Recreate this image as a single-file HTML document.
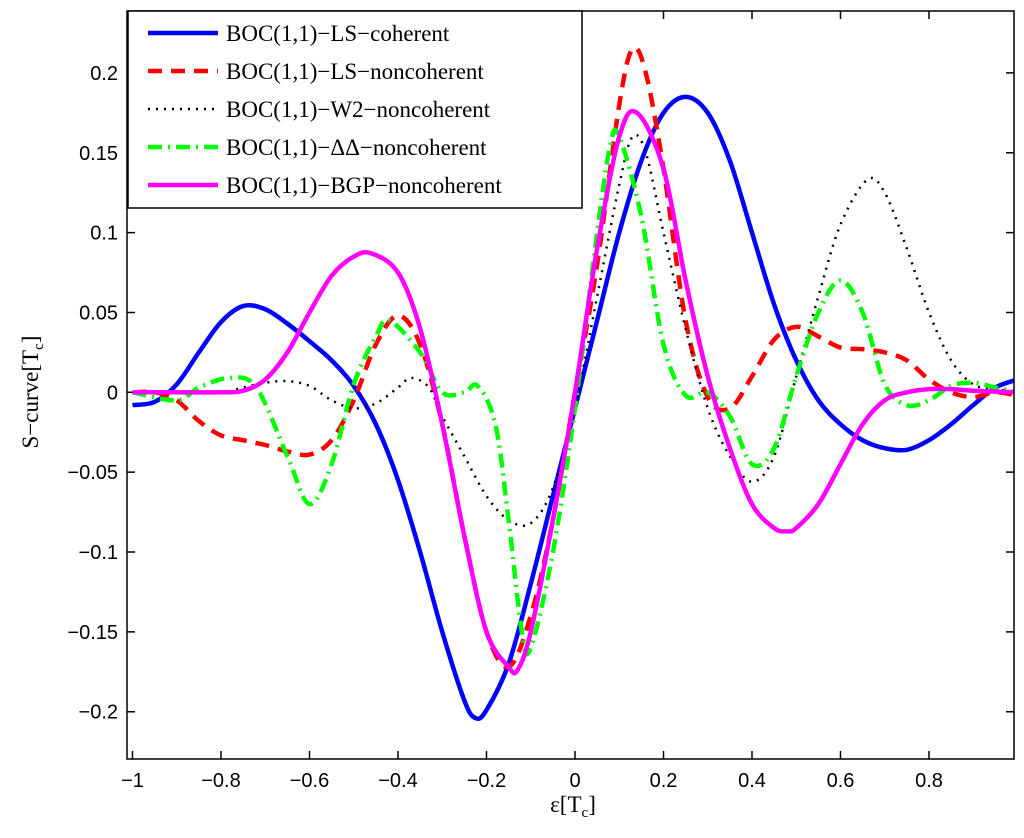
<!DOCTYPE html>
<html><head><meta charset="utf-8"><style>
body{margin:0;background:#fff}
svg{display:block}
.t{font-family:"Liberation Sans",sans-serif;font-size:20px;fill:#000}
.s{font-family:"Liberation Serif",serif;font-size:23px;fill:#000}
</style></head><body>
<svg id="chart" width="1024" height="838">
<defs><clipPath id="clip"><rect x="127" y="11" width="887" height="748"/></clipPath></defs>
<g id="ticks"></g>
<g id="series" clip-path="url(#clip)"></g>
<rect x="127" y="11" width="887" height="748" fill="none" stroke="#000" stroke-width="1.5"/>
<g id="legend"></g>
<text class="s" x="573" y="812" text-anchor="middle">ε[T<tspan font-size="15" dy="5">c</tspan><tspan dy="-5">]</tspan></text>
<text class="s" transform="translate(38,392) rotate(-90)" text-anchor="middle">S−curve[T<tspan font-size="15" dy="5">c</tspan><tspan dy="-5">]</tspan></text>
</svg>
<script>
const xTicks=[-1,-0.8,-0.6,-0.4,-0.2,0,0.2,0.4,0.6,0.8];
const xTickLabels=["−1","−0.8","−0.6","−0.4","−0.2","0","0.2","0.4","0.6","0.8"];
const yTicks=[-0.2,-0.15,-0.1,-0.05,0,0.05,0.1,0.15,0.2];
const yTickLabels=["−0.2","−0.15","−0.1","−0.05","0","0.05","0.1","0.15","0.2"];
const seriesNames=["BOC(1,1)−LS−coherent","BOC(1,1)−LS−noncoherent","BOC(1,1)−W2−noncoherent","BOC(1,1)−ΔΔ−noncoherent","BOC(1,1)−BGP−noncoherent"];
const lsCohX=[-1,-0.95,-0.9,-0.85,-0.8,-0.75,-0.7,-0.65,-0.6,-0.55,-0.5,-0.45,-0.4,-0.35,-0.3,-0.25,-0.225,-0.2,-0.15,-0.1,-0.05,0,0.05,0.1,0.15,0.2,0.25,0.3,0.35,0.4,0.45,0.5,0.55,0.6,0.65,0.7,0.75,0.8,0.85,0.9,0.95,1];
const lsCohY=[-0.008,-0.006,0.005,0.025,0.044,0.054,0.052,0.043,0.032,0.02,0.004,-0.02,-0.055,-0.1,-0.15,-0.193,-0.204,-0.199,-0.17,-0.12,-0.065,-0.01,0.045,0.1,0.145,0.175,0.185,0.175,0.145,0.1,0.055,0.02,-0.005,-0.02,-0.03,-0.035,-0.036,-0.03,-0.02,-0.008,0.003,0.008];
const lsNcX=[-1,-0.95,-0.9,-0.85,-0.8,-0.75,-0.7,-0.65,-0.6,-0.55,-0.5,-0.45,-0.4,-0.35,-0.3,-0.25,-0.2,-0.15,-0.1,-0.05,0,0.05,0.1,0.13,0.16,0.2,0.25,0.3,0.35,0.4,0.45,0.5,0.55,0.6,0.65,0.7,0.75,0.8,0.85,0.9,0.95,1];
const lsNcY=[0,0,-0.005,-0.018,-0.027,-0.03,-0.033,-0.037,-0.039,-0.03,-0.005,0.03,0.048,0.03,-0.02,-0.09,-0.15,-0.172,-0.14,-0.08,0,0.08,0.18,0.215,0.2,0.14,0.045,-0.003,-0.01,0.01,0.033,0.041,0.035,0.028,0.027,0.025,0.02,0.008,0,-0.003,0,-0.002];
const w2X=[-1,-0.9,-0.8,-0.75,-0.7,-0.65,-0.6,-0.55,-0.5,-0.45,-0.4,-0.37,-0.33,-0.3,-0.25,-0.2,-0.15,-0.1,-0.05,0,0.05,0.1,0.13,0.16,0.2,0.25,0.3,0.35,0.4,0.45,0.5,0.55,0.6,0.66,0.7,0.75,0.8,0.85,0.9,0.95,1];
const w2Y=[0,0,0,0.003,0.006,0.007,0.004,-0.005,-0.01,-0.007,0.003,0.009,0.003,-0.015,-0.04,-0.065,-0.08,-0.082,-0.06,-0.01,0.06,0.13,0.16,0.15,0.1,0.04,-0.01,-0.04,-0.056,-0.04,0.01,0.06,0.105,0.133,0.125,0.09,0.05,0.02,0.005,0.002,0];
const ddX=[-1,-0.9,-0.85,-0.78,-0.72,-0.65,-0.6,-0.55,-0.5,-0.45,-0.42,-0.35,-0.3,-0.25,-0.22,-0.18,-0.15,-0.12,-0.1,-0.05,0,0.05,0.08,0.1,0.15,0.2,0.25,0.3,0.35,0.4,0.45,0.5,0.55,0.6,0.65,0.7,0.75,0.8,0.85,0.9,0.95,1];
const ddY=[0,-0.005,0.003,0.009,0.003,-0.04,-0.07,-0.045,0.005,0.035,0.045,0.025,0,0,0.004,-0.02,-0.08,-0.15,-0.16,-0.1,-0.01,0.1,0.155,0.16,0.11,0.03,-0.002,0,-0.015,-0.045,-0.035,0.01,0.05,0.07,0.05,0.005,-0.008,-0.005,0.004,0.006,0.003,0];
const bgpX=[-1,-0.9,-0.8,-0.75,-0.7,-0.65,-0.6,-0.55,-0.5,-0.46,-0.4,-0.35,-0.3,-0.25,-0.2,-0.15,-0.13,-0.1,-0.05,0,0.05,0.1,0.14,0.2,0.25,0.3,0.35,0.4,0.45,0.48,0.5,0.55,0.6,0.65,0.7,0.75,0.8,0.85,0.9,1];
const bgpY=[0,0,0,0.001,0.008,0.025,0.05,0.073,0.085,0.087,0.075,0.04,-0.02,-0.09,-0.15,-0.172,-0.174,-0.15,-0.08,0,0.09,0.16,0.175,0.14,0.07,0.01,-0.035,-0.07,-0.085,-0.087,-0.085,-0.07,-0.045,-0.02,-0.005,0,0.002,0.002,0.001,0];
const xs=v=>132.5+(v+1)*442.5;
const ys=v=>392.3-v*1597;
const NS="http://www.w3.org/2000/svg";
const styles=[
 {c:"#0000ff",d:"",w:4.5},
 {c:"#ff0000",d:"14,9",w:4.5},
 {c:"#000000",d:"2,6",w:2.5},
 {c:"#00ff00",d:"14,6,2,6",w:4.5},
 {c:"#ff00ff",d:"",w:4.5}];
const data=[[lsCohX,lsCohY],[lsNcX,lsNcY],[w2X,w2Y],[ddX,ddY],[bgpX,bgpY]];
const names=["series-ls-coherent","series-ls-noncoherent","series-w2-noncoherent","series-dd-noncoherent","series-bgp-noncoherent"];
function pathFor(X,Y){
 const p=X.map((x,i)=>[xs(x),ys(Y[i])]);
 let d="M"+p[0][0]+","+p[0][1];
 for(let i=0;i<p.length-1;i++){
  const p0=p[Math.max(0,i-1)],p1=p[i],p2=p[i+1],p3=p[Math.min(p.length-1,i+2)];
  const c1=[p1[0]+(p2[0]-p0[0])/6,p1[1]+(p2[1]-p0[1])/6];
  const c2=[p2[0]-(p3[0]-p1[0])/6,p2[1]-(p3[1]-p1[1])/6];
  d+=" C"+c1+" "+c2+" "+p2;
 }
 return d;
}
const sg=document.getElementById("series");
data.forEach((s,k)=>{
 const el=document.createElementNS(NS,"path");
 el.setAttribute("d",pathFor(s[0],s[1]));
 el.setAttribute("fill","none");
 el.setAttribute("stroke",styles[k].c);
 el.setAttribute("stroke-width",styles[k].w);
 if(styles[k].d)el.setAttribute("stroke-dasharray",styles[k].d);
 
 
 sg.appendChild(el);
});
const tg=document.getElementById("ticks");
xTicks.forEach((v,i)=>{
 const x=xs(v);
 const l=document.createElementNS(NS,"path");
 l.setAttribute("d",`M${x},759V751M${x},11V19`);
 l.setAttribute("stroke","#000");l.setAttribute("stroke-width","1.5");
 
 
 tg.appendChild(l);
 const t=document.createElementNS(NS,"text");
 t.setAttribute("class","t");t.setAttribute("x",x);t.setAttribute("y",787);t.setAttribute("text-anchor","middle");
 t.textContent=xTickLabels[i];
 
 
 tg.appendChild(t);
});
yTicks.forEach((v,i)=>{
 const y=ys(v);
 const l=document.createElementNS(NS,"path");
 l.setAttribute("d",`M127,${y}H135M1014,${y}H1006`);
 l.setAttribute("stroke","#000");l.setAttribute("stroke-width","1.5");
 
 
 tg.appendChild(l);
 const t=document.createElementNS(NS,"text");
 t.setAttribute("class","t");t.setAttribute("x",118);t.setAttribute("y",y+7);t.setAttribute("text-anchor","end");
 t.textContent=yTickLabels[i];
 
 
 tg.appendChild(t);
});
const lg=document.getElementById("legend");
const box=document.createElementNS(NS,"rect");
box.setAttribute("x",128);box.setAttribute("y",11);box.setAttribute("width",454);box.setAttribute("height",197);
box.setAttribute("fill","#fff");box.setAttribute("stroke","#000");box.setAttribute("stroke-width","1.5");


lg.appendChild(box);
seriesNames.forEach((n,k)=>{
 const y=33+k*38;
 const l=document.createElementNS(NS,"path");
 l.setAttribute("d",`M148,${y}H218`);
 l.setAttribute("stroke",styles[k].c);l.setAttribute("stroke-width",styles[k].w);
 if(styles[k].d)l.setAttribute("stroke-dasharray",styles[k].d);
 
 
 lg.appendChild(l);
 const t=document.createElementNS(NS,"text");
 t.setAttribute("class","s");t.setAttribute("x",226);t.setAttribute("y",y+8);
 t.textContent=n;
 
 
 lg.appendChild(t);
});
</script>
</body></html>
